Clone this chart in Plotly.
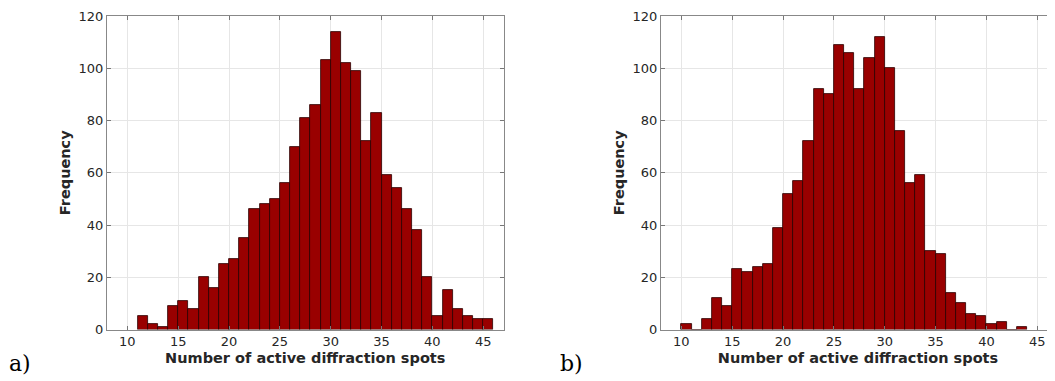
import plotly.graph_objects as go

# Histogram a): bin left edges (width 1) and counts
a_bins = [11, 12, 13, 14, 15, 16, 17, 18, 19, 20, 21, 22, 23, 24, 25, 26, 27, 28,
          29, 30, 31, 32, 33, 34, 35, 36, 37, 38, 39, 40, 41, 42, 43, 44, 45]
a_counts = [5, 2, 1, 9, 11, 8, 20, 16, 25, 27, 35, 46, 48, 50, 56, 70, 81, 86,
            103, 114, 102, 99, 72, 83, 59, 54, 46, 38, 20, 5, 15, 8, 5, 4, 4]

# Histogram b)
b_bins = [10, 11, 12, 13, 14, 15, 16, 17, 18, 19, 20, 21, 22, 23, 24, 25, 26,
          27, 28, 29, 30, 31, 32, 33, 34, 35, 36, 37, 38, 39, 40, 41, 42, 43]
b_counts = [2, 0, 4, 12, 9, 23, 22, 24, 25, 39, 52, 57, 72, 92, 90, 109, 106,
            92, 104, 112, 100, 76, 56, 59, 30, 29, 14, 10, 6, 5, 2, 3, 0, 1]

x_ticks = [10, 15, 20, 25, 30, 35, 40, 45]
y_ticks = [0, 20, 40, 60, 80, 100, 120]
x_title = "Number of active diffraction spots"
y_title = "Frequency"
panel_labels = ["a)", "b)"]

# page body has an 8px margin: size the figure to the remaining window area
OFF = 8
W, H = 1055 - OFF, 381 - OFF
BAR = "#990000"
EDGE = "#2a0000"
TXT = "#262626"
FONT = "DejaVu Sans"


def px_x(p):
    return (p - OFF) / W


def px_y(p):
    return 1 - (p - OFF) / H


fig = go.Figure()
fig.add_trace(go.Bar(x=[b + 0.5 for b in a_bins], y=a_counts, width=1,
                     marker=dict(color=BAR, line=dict(color=EDGE, width=0.8)),
                     xaxis="x", yaxis="y", showlegend=False))
fig.add_trace(go.Bar(x=[b + 0.5 for b in b_bins], y=b_counts, width=1,
                     marker=dict(color=BAR, line=dict(color=EDGE, width=0.8)),
                     xaxis="x2", yaxis="y2", showlegend=False))

ydom = [px_y(329.5), px_y(16)]


def xax(domain, rng):
    return dict(domain=domain, range=rng, tickvals=x_ticks, ticks="inside",
                ticklen=4, tickcolor="#777", showline=True, linecolor="#888",
                linewidth=1, mirror="ticks", showgrid=True, gridcolor="#e6e6e6",
                gridwidth=1, zeroline=False, automargin=False,
                tickfont=dict(family=FONT, size=13, color=TXT),
                title=dict(text=f"<b>{x_title}</b>", standoff=4,
                           font=dict(family=FONT, size=14.5, color=TXT)))


def yax(domain, anchor):
    return dict(domain=domain, range=[0, 120], tickvals=y_ticks, ticks="inside",
                ticklen=4, tickcolor="#777", showline=True, linecolor="#888",
                linewidth=1, mirror="ticks", showgrid=True, gridcolor="#e6e6e6",
                gridwidth=1, zeroline=False, anchor=anchor, automargin=False,
                tickfont=dict(family=FONT, size=13, color=TXT),
                title=dict(text=f"<b>{y_title}</b>", standoff=4,
                           font=dict(family=FONT, size=14.5, color=TXT)))


fig.update_layout(
    width=W, height=H,
    margin=dict(l=0, r=0, t=0, b=0),
    paper_bgcolor="white", plot_bgcolor="white",
    bargap=0,
    xaxis=dict(**xax([px_x(107), px_x(503.5)], [8, 47]), anchor="y"),
    yaxis=yax(ydom, "x"),
    xaxis2=dict(**xax([px_x(661), 1.0], [8, 46.74]), anchor="y2"),
    yaxis2=yax(ydom, "x2"),
)

for txt, xp in zip(panel_labels, [7, 558]):
    fig.add_annotation(text=txt, x=px_x(xp), y=px_y(363), xref="paper", yref="paper",
                       xanchor="left", yanchor="middle", showarrow=False,
                       font=dict(family="DejaVu Serif", size=22, color="black"))

fig.write_html("out.html")
